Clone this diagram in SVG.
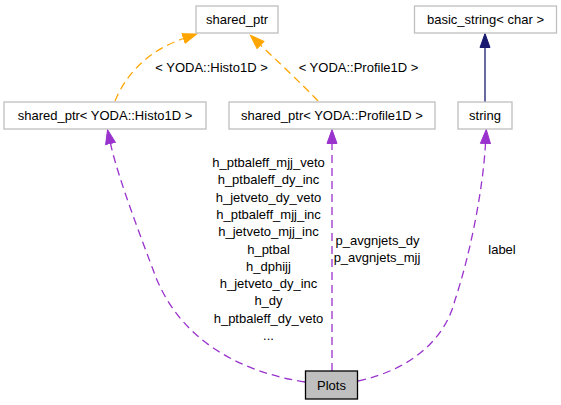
<svg xmlns="http://www.w3.org/2000/svg" width="561" height="405" viewBox="0 0 561 405">
<style>
text{font-family:"Liberation Sans",Arial,sans-serif;font-size:13px;fill:#000;text-anchor:middle}
.box{fill:#fff;stroke:#bfbfbf;stroke-width:1.3}
.main{fill:#bfbfbf;stroke:#000;stroke-width:1.3}
.usage{fill:none;stroke:#9a32cd;stroke-width:1.3;stroke-dasharray:8,5}
.tmpl{fill:none;stroke:#ffa500;stroke-width:1.3;stroke-dasharray:8,5}
.inh{fill:none;stroke:#191970;stroke-width:1.3}
</style>
<defs>
<marker id="aP" markerUnits="userSpaceOnUse" markerWidth="16" markerHeight="12" refX="0" refY="5.5" orient="auto" viewBox="0 -0.5 15 12"><path d="M0,0.5 L14,5.5 L0,10.5 z" fill="#9a32cd" stroke="#9a32cd" stroke-width="1"/></marker>
<marker id="aO" markerUnits="userSpaceOnUse" markerWidth="16" markerHeight="12" refX="0" refY="5.5" orient="auto" viewBox="0 -0.5 15 12"><path d="M0,0.5 L14,5.5 L0,10.5 z" fill="#ffa500" stroke="#ffa500" stroke-width="1"/></marker>
<marker id="aN" markerUnits="userSpaceOnUse" markerWidth="16" markerHeight="12" refX="0" refY="5.5" orient="auto" viewBox="0 -0.5 15 12"><path d="M0,0.5 L14,5.5 L0,10.5 z" fill="#191970" stroke="#191970" stroke-width="1"/></marker>
</defs>
<g id="connectors">
<path class="usage" d="M305,382 C240,372 180,340 155,275 C142,240 118,178 110.5,143.5" marker-end="url(#aP)"/>
<path class="usage" d="M332,371 L332,143.5" marker-end="url(#aP)"/>
<path class="usage" d="M358,381 C410,370 445,340 455,300 C470,255 483,190 485.5,143.5" marker-end="url(#aP)"/>
<path class="tmpl" d="M115,101 C127,72 150,50 183.5,38.5" marker-end="url(#aO)"/>
<path class="tmpl" d="M318,101 C302,84 274,58 260.5,45" marker-end="url(#aO)"/>
<path class="inh" d="M485,102 L485,47.5" marker-end="url(#aN)"/>
<text x="211.5" y="72">&lt; YODA::Histo1D &gt;</text>
<text x="358.5" y="72">&lt; YODA::Profile1D &gt;</text>
<text x="268.5" y="167">h_ptbaleff_mjj_veto</text>
<text x="268.5" y="184.3">h_ptbaleff_dy_inc</text>
<text x="268.5" y="201.6">h_jetveto_dy_veto</text>
<text x="268.5" y="218.9">h_ptbaleff_mjj_inc</text>
<text x="268.5" y="236.2">h_jetveto_mjj_inc</text>
<text x="268.5" y="253.5">h_ptbal</text>
<text x="268.5" y="270.8">h_dphijj</text>
<text x="268.5" y="288.1">h_jetveto_dy_inc</text>
<text x="268.5" y="305.4">h_dy</text>
<text x="268.5" y="322.7">h_ptbaleff_dy_veto</text>
<text x="268.5" y="340">...</text>
<text x="377.5" y="244.5">p_avgnjets_dy</text>
<text x="377" y="261.8">p_avgnjets_mjj</text>
<text x="502" y="253.5">label</text>
</g>
<g id="node-plots">
<rect class="main" x="305.5" y="371" width="52" height="28"/>
<text x="331.5" y="389.5">Plots</text>
</g>
<g id="node-shared-ptr-histo">
<rect class="box" x="4" y="102" width="202" height="27"/>
<text x="105" y="120">shared_ptr&lt; YODA::Histo1D &gt;</text>
</g>
<g id="node-shared-ptr">
<rect class="box" x="196" y="6" width="82" height="27"/>
<text x="237" y="24">shared_ptr</text>
</g>
<g id="node-shared-ptr-profile">
<rect class="box" x="229" y="102" width="206" height="27"/>
<text x="332" y="120">shared_ptr&lt; YODA::Profile1D &gt;</text>
</g>
<g id="node-string">
<rect class="box" x="458" y="102" width="54" height="27"/>
<text x="485" y="120">string</text>
</g>
<g id="node-basic-string">
<rect class="box" x="414.5" y="6" width="142" height="27"/>
<text x="485.5" y="24">basic_string&lt; char &gt;</text>
</g>
</svg>
